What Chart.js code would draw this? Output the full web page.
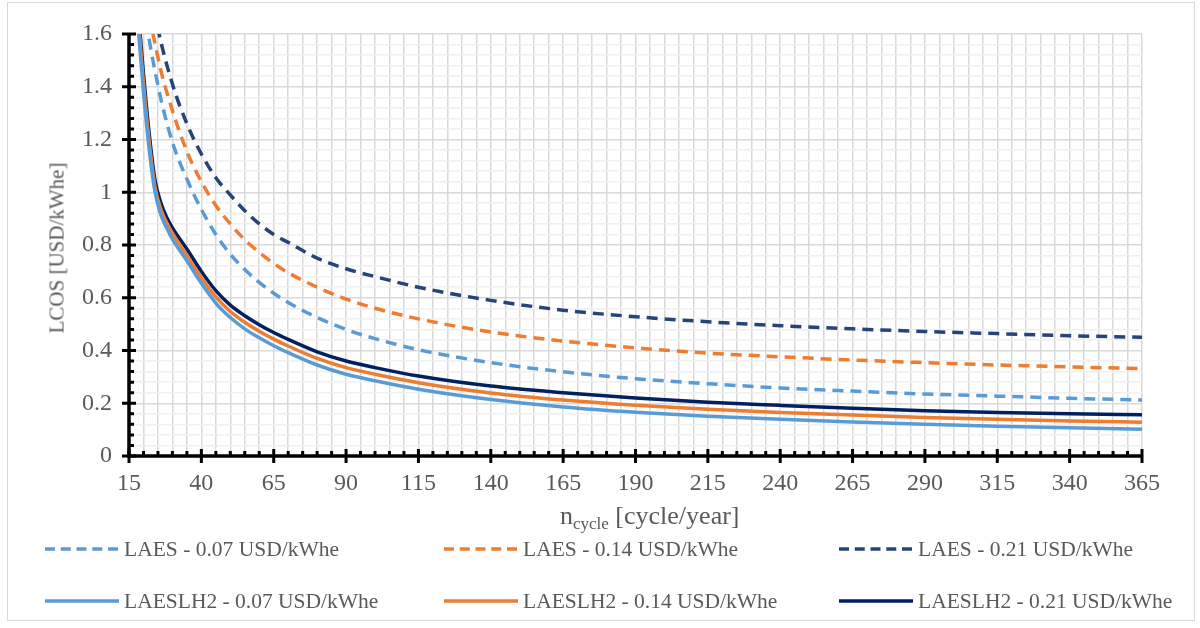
<!DOCTYPE html>
<html>
<head>
<meta charset="utf-8">
<script src="https://cdn.jsdelivr.net/npm/chart.js@4.4.1/dist/chart.umd.min.js"></script>
<style>
  body { margin: 0; background: #fff; }
  #wrap { position: relative; width: 1200px; height: 628px; font-family: "Liberation Serif", "Times New Roman", serif; color: #595959; }
  #frame { position: absolute; left: 7px; top: 2px; width: 1186px; height: 617px; border: 1px solid #d9d9d9; }
  #chart { position: absolute; left: 0; top: 0; }
  #ytitle { position: absolute; left: 57px; top: 248px; font-size: 21px; white-space: nowrap; transform: translate(-50%, -50%) rotate(-90deg); }
  #xtitle { position: absolute; left: 560px; top: 501px; font-size: 26px; white-space: nowrap; }
  #xtitle sub { font-size: 17px; vertical-align: -5px; }
  .leg { position: absolute; display: flex; align-items: center; font-size: 21.5px; white-space: nowrap; }
  .leg svg { margin-right: 5px; }
</style>
</head>
<body>
<div id="wrap">
  <div id="frame"></div>
  <canvas id="chart" width="1200" height="628"></canvas>
  <div id="ytitle">LCOS [USD/kWhe]</div>
  <div id="xtitle">n<sub>cycle</sub> [cycle/year]</div>
  <div id="legend"></div>
</div>
<script>
// cycles per year (LAES curves / LAESLH2 curves, the latter read more finely at the bend)
const nLaes = [15, 20, 25, 30, 35, 40, 45, 50, 55, 60, 65, 70, 80, 90, 100, 115, 140, 165, 190, 215, 240, 265, 290, 315, 340, 365];
const nLh2 = [15, 20, 22, 24, 26, 28, 30, 35, 40, 45, 50, 55, 60, 65, 70, 80, 90, 100, 115, 140, 165, 190, 215, 240, 265, 290, 315, 340, 365];

// LCOS [USD/kWhe]
const laes007 = [2.26, 1.725, 1.405, 1.19, 1.05, 0.935, 0.84, 0.765, 0.707, 0.658, 0.617, 0.582, 0.525, 0.48, 0.445, 0.403, 0.354, 0.319, 0.293, 0.274, 0.258, 0.246, 0.235, 0.227, 0.219, 0.212];
const laes014 = [2.35, 1.82, 1.51, 1.31, 1.155, 1.04, 0.95, 0.88, 0.82, 0.772, 0.73, 0.695, 0.64, 0.595, 0.56, 0.52, 0.47, 0.436, 0.41, 0.39, 0.376, 0.364, 0.354, 0.345, 0.338, 0.331];
const laes021 = [2.44, 1.92, 1.62, 1.41, 1.26, 1.145, 1.055, 0.99, 0.93, 0.88, 0.84, 0.81, 0.75, 0.71, 0.68, 0.64, 0.59, 0.553, 0.528, 0.509, 0.494, 0.482, 0.472, 0.464, 0.456, 0.45];
const lh2007 = [2.05, 1.38, 1.16, 1.0, 0.915, 0.865, 0.822, 0.74, 0.655, 0.58, 0.525, 0.482, 0.448, 0.418, 0.392, 0.345, 0.31, 0.285, 0.253, 0.214, 0.186, 0.166, 0.151, 0.139, 0.129, 0.12, 0.113, 0.107, 0.101];
const lh2014 = [2.08, 1.415, 1.19, 1.02, 0.935, 0.885, 0.845, 0.76, 0.677, 0.603, 0.548, 0.507, 0.473, 0.443, 0.417, 0.37, 0.335, 0.31, 0.278, 0.239, 0.212, 0.192, 0.177, 0.165, 0.155, 0.146, 0.139, 0.133, 0.128];
const lh2021 = [2.1, 1.45, 1.22, 1.045, 0.96, 0.905, 0.865, 0.785, 0.70, 0.627, 0.572, 0.532, 0.498, 0.468, 0.442, 0.395, 0.36, 0.335, 0.303, 0.265, 0.24, 0.22, 0.204, 0.192, 0.181, 0.172, 0.165, 0.16, 0.156];

const xLabels = [15, 40, 65, 90, 115, 140, 165, 190, 215, 240, 265, 290, 315, 340, 365];
const yLabels = [0, 0.2, 0.4, 0.6, 0.8, 1, 1.2, 1.4, 1.6];

const seriesNames = [
  "LAES - 0.07 USD/kWhe", "LAES - 0.14 USD/kWhe", "LAES - 0.21 USD/kWhe",
  "LAESLH2 - 0.07 USD/kWhe", "LAESLH2 - 0.14 USD/kWhe", "LAESLH2 - 0.21 USD/kWhe"
];
const seriesData = [laes007, laes014, laes021, lh2007, lh2014, lh2021];
const seriesX = [nLaes, nLaes, nLaes, nLh2, nLh2, nLh2];
const seriesColors = ["#5b9bd5", "#ed7d31", "#264478", "#5b9bd5", "#ed7d31", "#002060"];
const seriesDashed = [true, true, true, false, false, false];

const near = (v, list) => list.some(l => Math.abs(l - v) < 1e-6);

// black axis lines with major (crossing) and minor (inside) ticks
const axesPlugin = {
  id: "axes",
  afterDatasetsDraw(chart) {
    const { ctx, chartArea: a, scales: { x, y } } = chart;
    ctx.save();
    ctx.strokeStyle = "#000";
    ctx.lineWidth = 3.5;
    ctx.beginPath();
    ctx.moveTo(a.left, a.top);
    ctx.lineTo(a.left, a.bottom);
    ctx.lineTo(a.right, a.bottom);
    ctx.stroke();
    ctx.lineWidth = 3;
    ctx.beginPath();
    y.ticks.forEach(t => {
      const py = y.getPixelForValue(t.value);
      const major = near(t.value, yLabels);
      ctx.moveTo(a.left - (major ? 7 : 0), py);
      ctx.lineTo(a.left + (major ? 7 : 5), py);
    });
    x.ticks.forEach(t => {
      const px = x.getPixelForValue(t.value);
      const major = near(t.value, xLabels);
      ctx.moveTo(px, a.bottom + (major ? 7 : 0));
      ctx.lineTo(px, a.bottom - (major ? 7 : 5));
    });
    ctx.stroke();
    ctx.restore();
  }
};

const serif = "'Liberation Serif', 'Times New Roman', serif";
const tickFont = { family: serif, size: 24 };

new Chart(document.getElementById("chart"), {
  type: "line",
  data: {
    datasets: seriesData.map((d, i) => ({
      label: seriesNames[i],
      data: d.map((v, j) => ({ x: seriesX[i][j], y: v })),
      borderColor: seriesColors[i],
      borderWidth: 3.5,
      borderDash: seriesDashed[i] ? [11, 7] : [],
      pointRadius: 0,
      cubicInterpolationMode: "monotone",
      fill: false
    }))
  },
  options: {
    responsive: false,
    animation: false,
    layout: { padding: { left: 0, top: 34, right: 58, bottom: 0 } },
    plugins: { legend: { display: false }, tooltip: { enabled: false } },
    scales: {
      x: {
        type: "linear",
        min: 15,
        max: 365,
        afterFit: s => { s.height = 172; },
        border: { display: false },
        grid: { color: "#d9d9d9", lineWidth: 1.5, drawTicks: false },
        ticks: {
          stepSize: 5,
          autoSkip: false,
          maxRotation: 0,
          maxTicksLimit: 200,
          padding: 13,
          color: "#595959",
          font: tickFont,
          callback: v => near(v, xLabels) ? String(v) : ""
        }
      },
      y: {
        min: 0,
        max: 1.6,
        afterFit: s => { s.width = 129; },
        border: { display: false },
        grid: {
          drawTicks: false,
          lineWidth: 1.5,
          color: c => near(c.tick.value, yLabels) ? "#d9d9d9" : "#f0f0f0"
        },
        ticks: {
          stepSize: 0.04,
          autoSkip: false,
          maxTicksLimit: 200,
          padding: 17,
          color: "#595959",
          font: tickFont,
          callback: v => near(v, yLabels) ? String(Math.round(v * 10) / 10) : ""
        }
      }
    }
  },
  plugins: [axesPlugin]
});

// legend, 2 rows x 3 columns
const legCols = [45, 444, 839];
const legRows = [549, 601];
const legend = document.getElementById("legend");
seriesNames.forEach((name, i) => {
  const el = document.createElement("div");
  el.className = "leg";
  el.style.left = legCols[i % 3] + "px";
  el.style.top = (legRows[Math.floor(i / 3)] - 14) + "px";
  el.style.height = "28px";
  const dash = seriesDashed[i] ? ' stroke-dasharray="10 5.75"' : "";
  el.innerHTML = '<svg width="74" height="6"><line x1="0" y1="3" x2="74" y2="3" stroke="' + seriesColors[i] +
    '" stroke-width="3.5"' + dash + '/></svg><span>' + name + '</span>';
  legend.appendChild(el);
});
</script>
</body>
</html>
